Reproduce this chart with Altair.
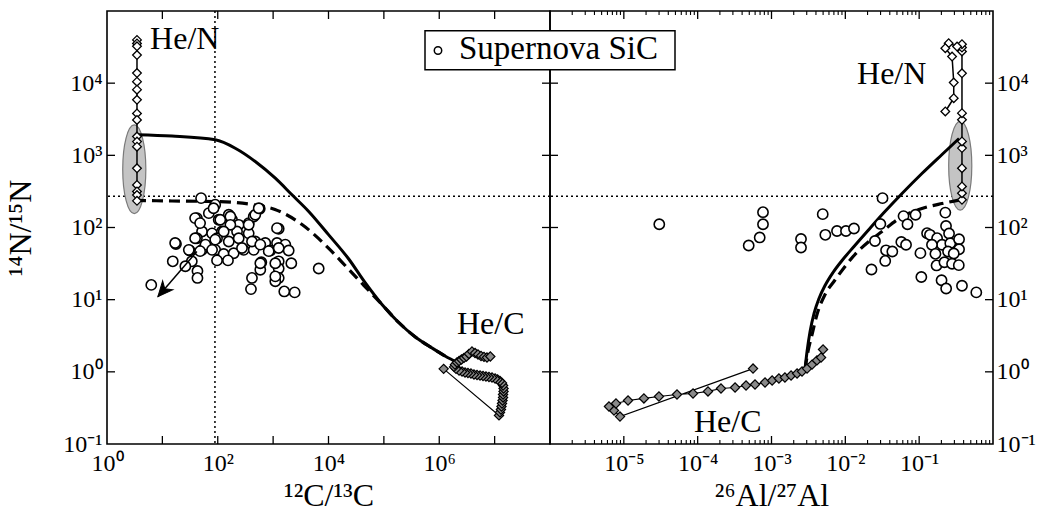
import math
import altair as alt
import pandas as pd

FONT = "Liberation Serif"
W, H = 443, 433
TICK_MAJOR = 8
TICK_MINOR = 4

# ---------------- data ----------------
# Supernova SiC grains: 12C/13C and 14N/15N (left panel)
sic_c12c13 = [50, 90, 69, 42, 104, 158, 181, 239, 362, 446, 573, 1260, 52, 79, 119, 223, 362,
              42, 97, 158, 239, 476, 722, 1175, 1660, 17.6, 31, 52, 90, 128, 194, 294, 446, 889,
              1260, 1910, 15.4, 34, 97, 153, 612, 1260, 2130, 26, 43, 43, 587, 1260, 415, 1260,
              1095, 6650, 398, 1590, 2450, 6.3, 39, 48, 84, 111, 169, 169, 128, 362, 476, 549,
              39, 60, 90, 274, 415, 587, 832, 1175, 17, 30, 48, 79, 587, 1095, 1095]
sic_n14n15_c = [255, 207, 158, 135, 128, 150, 128, 109, 115, 142, 182, 96, 88, 83, 88, 88, 83,
                71, 71, 64, 71, 64, 61, 61, 58, 59, 48, 49, 49, 43, 44, 49, 49, 48,
                52, 48, 34, 34, 35, 35, 33, 34, 32, 29, 25, 20, 26, 27, 20, 20,
                18, 27, 14, 13, 12.6, 16, 135, 115, 185, 128, 142, 109, 88, 109, 150, 185,
                71, 58, 68, 52, 64, 58, 47, 98, 61, 49, 47, 49, 32, 32, 21]

# Supernova SiC grains: 26Al/27Al and 14N/15N (right panel)
sic_al26al27 = [3.02e-5, 7.67e-4, 7.67e-4, 6.92e-4, 4.91e-4, 2.51e-3, 2.51e-3, 4.94e-3, 5.36e-3,
                7.71e-3, 0.0102, 0.0131, 0.0319, 0.0298, 0.0252, 0.0226, 0.0356, 0.0433, 0.0347,
                0.0573, 0.0664, 0.0614, 0.0893, 0.0695, 0.104, 0.107, 0.226, 0.231, 0.254, 0.128,
                0.140, 0.175, 0.204, 0.149, 0.264, 0.347, 0.347, 0.166, 0.246, 0.294, 0.172,
                0.220, 0.279, 0.344, 0.201, 0.232, 0.380, 0.594]
sic_n14n15_al = [111, 163, 111, 72.8, 56.3, 69.3, 52.8, 153, 79.2, 89.5, 89.5, 96.9, 255, 112,
                 65.0, 26.2, 48.3, 46.5, 34.4, 63.0, 57.6, 144, 150, 111, 44.1, 20.6, 161, 105,
                 82.6, 83.4, 79.2, 71.1, 57.6, 57.6, 60.6, 68.7, 49.9, 43.2, 46.5, 43.6, 29.8,
                 33.0, 31.5, 30.1, 18.6, 14.3, 15.6, 12.6]

# Mixing curves (solid and dashed)
solid_c = [3.48, 14.9, 90, 207, 476, 1095, 2190, 4390, 10090, 23200, 45600, 92500, 185000,
           370000, 740000, 1.27e6, 2.24e6]
solid_n_c = [1930, 1850, 1640, 1255, 822, 482, 284, 167, 79, 36.6, 17.3, 8.57, 4.83, 3.04, 2.14,
             1.66, 1.32]
dashed_c = [3.2, 14.9, 90, 415, 1080, 3320, 10200, 21600, 43800, 92500, 185000, 370000, 740000,
            1.27e6]
dashed_n_c = [237, 233, 229, 208, 178, 110, 51, 27.9, 15.7, 8.57, 4.83, 3.04, 2.14, 1.66]

solid_al = [2.84e-3, 3.03e-3, 3.33e-3, 3.77e-3, 4.40e-3, 5.31e-3, 6.81e-3, 9.02e-3, 0.0131,
            0.0203, 0.0334, 0.0586, 0.109, 0.204, 0.347]
solid_n_al = [1.08, 1.91, 3.62, 6.44, 10.4, 15.7, 23.8, 34.9, 54.6, 91, 161, 296, 560, 1028, 1710]
dashed_al = [2.84e-3, 3.12e-3, 3.54e-3, 4.13e-3, 5.31e-3, 7.24e-3, 9.91e-3, 0.0135, 0.0209,
             0.0314, 0.0533, 0.109, 0.204, 0.380]
dashed_n_al = [1.08, 1.91, 3.29, 6.23, 11.8, 18.7, 28.8, 42.3, 64, 88, 133, 183, 215, 244]

# He/N zone (open diamonds)
hen_c = [3.48, 3.48, 3.48, 3.48, 3.48, 3.48, 3.48, 3.48, 3.48, 3.48, 3.48, 3.48, 3.48, 3.48,
         3.48, 3.48, 3.48, 3.48]
hen_n_c = [39800, 35500, 32400, 24500, 13800, 10500, 8130, 5890, 3800, 3090, 1820, 1550, 1320,
           661, 389, 316, 282, 234]
hen_al = [0.38, 0.38, 0.38, 0.38, 0.38, 0.38, 0.38, 0.38, 0.38, 0.38, 0.38, 0.38,
          0.326, 0.251, 0.226, 0.279, 0.294, 0.294, 0.226]
hen_n_al = [242, 299, 370, 664, 1260, 1560, 3110, 3840, 13700, 27500, 31200, 34700,
            32200, 35800, 30500, 23400, 10200, 6190, 4050]

# He/C zone (grey diamonds)
hec_c = [1.20e6, 1.20e7, 1.25e7, 1.30e7, 1.33e7, 1.36e7, 1.39e7, 1.42e7, 1.42e7, 1.45e7, 1.45e7,
         1.42e7, 1.36e7, 1.25e7, 1.13e7, 1.02e7, 8.97e6, 7.91e6, 6.98e6, 6.17e6, 5.45e6, 4.81e6,
         4.24e6, 3.74e6, 3.30e6, 2.92e6, 2.58e6, 2.28e6, 2.01e6, 1.85e6, 1.92e6, 2.09e6, 2.28e6,
         2.52e6, 2.80e6, 3.10e6, 3.44e6, 3.90e6, 4.43e6, 5.01e6, 5.68e6, 6.43e6, 7.28e6, 8.36e6]
hec_n_c = [1.10, 0.249, 0.274, 0.301, 0.331, 0.364, 0.401, 0.442, 0.485, 0.535, 0.587, 0.647,
           0.702, 0.746, 0.783, 0.809, 0.836, 0.849, 0.863, 0.875, 0.889, 0.904, 0.918, 0.948,
           0.964, 0.979, 1.01, 1.04, 1.10, 1.17, 1.26, 1.35, 1.41, 1.48, 1.56, 1.63, 1.77, 1.91,
           1.82, 1.74, 1.66, 1.61, 1.58, 1.63]
hec_al = [5.62e-4, 8.87e-6, 7.36e-6, 6.29e-6, 7.83e-6, 1.14e-5, 1.87e-5, 2.99e-5, 5.25e-5,
          8.65e-5, 1.38e-4, 2.07e-4, 3.21e-4, 4.52e-4, 5.98e-4, 8.17e-4, 1.02e-3, 1.26e-3,
          1.52e-3, 1.84e-3, 2.22e-3, 2.59e-3, 3.03e-3, 3.54e-3, 4.13e-3, 4.69e-3, 4.99e-3]
hec_n_al = [1.11, 0.240, 0.291, 0.331, 0.364, 0.401, 0.428, 0.455, 0.485, 0.501, 0.535, 0.588,
            0.607, 0.647, 0.668, 0.711, 0.759, 0.809, 0.835, 0.889, 0.948, 1.01, 1.11, 1.26,
            1.44, 1.58, 2.04]

# Grey ellipse centres (He/N zone region)
ellipse_c, ellipse_n_c = [3.11], [641]
ellipse_al, ellipse_n_al = [0.36], [718]

# Arrow in the left panel (start, end)
arrow_c = [42, 8.3]
arrow_n = [46.5, 11]

# Solar reference values
solar_n = 272
solar_c = 89

# Annotations
notes_left = ["He/N", "He/C"]
notes_left_x = [6.0, 2.09e6]
notes_left_y = [29300, 3.3]
notes_right = ["He/C", "He/N"]
notes_right_x = [8.9e-5, 0.0144]
notes_right_y = [0.149, 9600]

# Axis ticks and labels
x_c_major = [10, 100, 1e3, 1e4, 1e5, 1e6, 1e7]
x_c_labeled = [1, 100, 1e4, 1e6]
x_c_labels = ["10⁰", "10²", "10⁴", "10⁶"]
x_al_major = [1e-5, 1e-4, 1e-3, 1e-2, 1e-1]
x_al_labels = ["10⁻⁵", "10⁻⁴", "10⁻³", "10⁻²", "10⁻¹"]
x_al_minor = [m * 10.0 ** k for k in range(-6, 0) for m in range(2, 10)]
y_major = [1, 10, 100, 1e3, 1e4]
y_labeled = [0.1, 1, 10, 100, 1e3, 1e4]
y_labels = ["10⁻¹", "10⁰", "10¹", "10²", "10³", "10⁴"]

legend_label = "Supernova SiC"


# ---------------- helpers ----------------
def lab_expr(ticks, labels):
    expr = "''"
    for t, l in zip(ticks, labels):
        e = round(math.log10(t))
        expr = f"(round(log(datum.value)/LN10) == {e}) ? '{l}' : ({expr})"
    return expr


common_axis = dict(ticks=False, domain=False, grid=False, labelFont=FONT, labelFontSize=24,
                   labelColor="black", titleFont=FONT, titleFontSize=32,
                   titleFontWeight="normal", titleColor="black", labelFlush=False,
                   labelOverlap=False)

ax_x_c = alt.Axis(values=x_c_labeled, labelExpr=lab_expr(x_c_labeled, x_c_labels),
                  title="¹²C/¹³C", labelPadding=7, titlePadding=5, **common_axis)
ax_x_al = alt.Axis(values=x_al_major, labelExpr=lab_expr(x_al_major, x_al_labels),
                   title="²⁶Al/²⁷Al", labelPadding=7, titlePadding=5, **common_axis)
ax_y_l = alt.Axis(values=y_labeled, labelExpr=lab_expr(y_labeled, y_labels), orient="left",
                  title="¹⁴N/¹⁵N", labelPadding=5, titlePadding=25, **common_axis)
ax_y_r = alt.Axis(values=y_labeled, labelExpr=lab_expr(y_labeled, y_labels), orient="right",
                  title=None, labelPadding=3, **common_axis)

ys = alt.Scale(type="log", domain=[0.1, 1e5], nice=False)
xs_c = alt.Scale(type="log", domain=[1, 1e8], nice=False)
xs_al = alt.Scale(type="log", domain=[1e-6, 1], nice=False)

ELLIPSE = "M 0 -1 A 0.26 1 0 1 1 0 1 A 0.26 1 0 1 1 0 -1 Z"
ARROWHEAD = "M 0 0 L 0.45 1 L 0 0.7 L -0.45 1 Z"


def xy(xs, ys_, ax_x, ax_y):
    def ex(f):
        return alt.X(f, type="quantitative", scale=xs, axis=ax_x)

    def ey(f):
        return alt.Y(f, type="quantitative", scale=ys_, axis=ax_y)
    return ex, ey


def df_xy(x, y):
    return pd.DataFrame({"x": x, "y": y, "i": list(range(len(x)))})


def panel(xs, ax_x, ax_y, data, x_major, x_minor, extra):
    ex, ey = xy(xs, ys, ax_x, ax_y)
    layers = []
    # solar reference lines
    layers.append(alt.Chart(pd.DataFrame({"y": [solar_n]})).mark_rule(
        color="black", strokeWidth=1.5, strokeDash=[2, 3]).encode(y=ey("y")))
    if data.get("vline") is not None:
        layers.append(alt.Chart(pd.DataFrame({"x": [data["vline"]]})).mark_rule(
            color="black", strokeWidth=1.5, strokeDash=[2, 3]).encode(x=ex("x")))
    # ellipse
    layers.append(alt.Chart(df_xy(*data["ellipse"])).mark_point(
        shape=ELLIPSE, size=7900, filled=True, fill="#c4c4c4", stroke="#7a7a7a",
        strokeWidth=1.2, opacity=1).encode(x=ex("x"), y=ey("y")))
    # mixing curves
    layers.append(alt.Chart(df_xy(*data["solid"])).mark_line(
        color="black", strokeWidth=3, interpolate="monotone").encode(
        x=ex("x"), y=ey("y"), order="i:Q"))
    layers.append(alt.Chart(df_xy(*data["dashed"])).mark_line(
        color="black", strokeWidth=3.2, strokeDash=[11, 6], interpolate="monotone").encode(
        x=ex("x"), y=ey("y"), order="i:Q"))
    # He/N zone
    df_hen = df_xy(*data["hen"])
    layers.append(alt.Chart(df_hen).mark_line(color="black", strokeWidth=1.5).encode(
        x=ex("x"), y=ey("y"), order="i:Q"))
    layers.append(alt.Chart(df_hen).mark_point(
        shape="diamond", size=75, filled=True, fill="white", stroke="black", strokeWidth=1.3,
        opacity=1).encode(x=ex("x"), y=ey("y")))
    # He/C zone
    df_hec = df_xy(*data["hec"])
    layers.append(alt.Chart(df_hec).mark_line(color="black", strokeWidth=1.2).encode(
        x=ex("x"), y=ey("y"), order="i:Q"))
    layers.append(alt.Chart(df_hec).mark_point(
        shape="diamond", size=85, filled=True, fill="#8a8a8a", stroke="black", strokeWidth=1.2,
        opacity=1).encode(x=ex("x"), y=ey("y"), order="i:Q"))
    # SiC grains
    layers.append(alt.Chart(df_xy(*data["sic"])).mark_point(
        shape="circle", size=105, filled=True, fill="white", stroke="black", strokeWidth=1.6,
        opacity=1).encode(x=ex("x"), y=ey("y")))
    # annotations
    layers.append(alt.Chart(pd.DataFrame({"x": data["notes_x"], "y": data["notes_y"],
                                          "t": data["notes"]})).mark_text(
        align="left", baseline="alphabetic", font=FONT, fontSize=32, color="black").encode(
        x=ex("x"), y=ey("y"), text="t:N"))
    # inward ticks
    df_xt = pd.DataFrame({"x": x_major})
    df_yt = pd.DataFrame({"y": y_major})
    for y0, y1 in ((H, H - TICK_MAJOR), (0, TICK_MAJOR)):
        layers.append(alt.Chart(df_xt).mark_rule(color="black", strokeWidth=1.3).encode(
            x=ex("x"), y=alt.value(y0), y2=alt.value(y1)))
    if x_minor:
        df_xm = pd.DataFrame({"x": x_minor})
        for y0, y1 in ((H, H - TICK_MINOR), (0, TICK_MINOR)):
            layers.append(alt.Chart(df_xm).mark_rule(color="black", strokeWidth=1.1).encode(
                x=ex("x"), y=alt.value(y0), y2=alt.value(y1)))
    for x0, x1 in ((0, TICK_MAJOR), (W - TICK_MAJOR, W)):
        layers.append(alt.Chart(df_yt).mark_rule(color="black", strokeWidth=1.3).encode(
            y=ey("y"), x=alt.value(x0), x2=alt.value(x1)))
    layers.extend(extra(ex, ey))
    return alt.layer(*layers).properties(width=W, height=H)


def left_extra(ex, ey):
    df_arrow = df_xy(arrow_c, arrow_n)
    line = alt.Chart(df_arrow).mark_line(color="black", strokeWidth=1.5).encode(
        x=ex("x"), y=ey("y"), order="i:Q")
    head = alt.Chart(df_arrow.iloc[[1]]).mark_point(
        shape=ARROWHEAD, size=900, angle=221, filled=True, fill="black", stroke="black",
        strokeWidth=1, opacity=1).encode(x=ex("x"), y=ey("y"))
    return [line, head]


def right_extra(ex, ey):
    one = pd.DataFrame({"t": [legend_label]})
    box = alt.Chart(one).mark_rect(fill="white", stroke="black", strokeWidth=1.5).encode(
        x=alt.value(-125), x2=alt.value(125), y=alt.value(19.8), y2=alt.value(58.8))
    dot = alt.Chart(one).mark_point(
        shape="circle", size=55, filled=True, fill="white", stroke="black", strokeWidth=1.5,
        opacity=1).encode(x=alt.value(-112), y=alt.value(39.5))
    txt = alt.Chart(one).mark_text(
        align="left", baseline="alphabetic", font=FONT, fontSize=33, color="black").encode(
        x=alt.value(-91), y=alt.value(47.5), text="t:N")
    return [box, dot, txt]


left = panel(xs_c, ax_x_c, ax_y_l, {
    "vline": solar_c,
    "ellipse": (ellipse_c, ellipse_n_c),
    "solid": (solid_c, solid_n_c),
    "dashed": (dashed_c, dashed_n_c),
    "hen": (hen_c, hen_n_c),
    "hec": (hec_c, hec_n_c),
    "sic": (sic_c12c13, sic_n14n15_c),
    "notes": notes_left, "notes_x": notes_left_x, "notes_y": notes_left_y,
}, x_c_major, None, left_extra)

right = panel(xs_al, ax_x_al, ax_y_r, {
    "vline": None,
    "ellipse": (ellipse_al, ellipse_n_al),
    "solid": (solid_al, solid_n_al),
    "dashed": (dashed_al, dashed_n_al),
    "hen": (hen_al, hen_n_al),
    "hec": (hec_al, hec_n_al),
    "sic": (sic_al26al27, sic_n14n15_al),
    "notes": notes_right, "notes_x": notes_right_x, "notes_y": notes_right_y,
}, x_al_major, x_al_minor, right_extra)

chart = alt.hconcat(left, right, spacing=0, bounds="flush").properties(
    padding={"left": 4, "top": 9, "right": 2, "bottom": 0},
    background="white",
).configure_view(stroke="black", strokeWidth=1.6)

chart.save("out.html", embed_options={"renderer": "svg", "actions": False})
